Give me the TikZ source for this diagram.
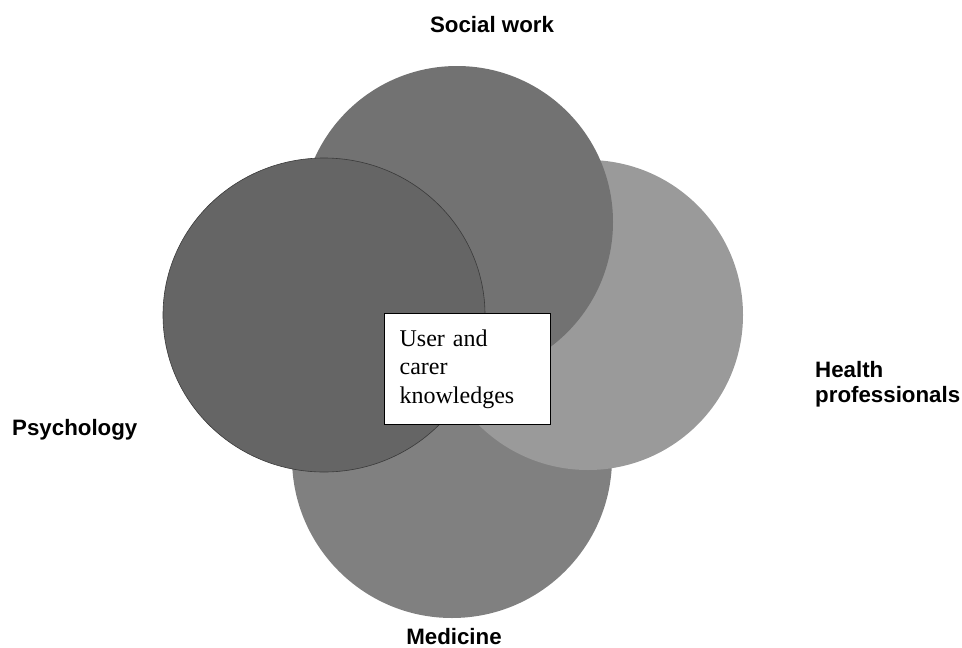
\documentclass[tikz,border=0pt]{standalone}
\usepackage{fontspec}
\setmainfont{Liberation Sans}
\newfontfamily\boxserif{Liberation Serif}
\usetikzlibrary{shapes.geometric}
\definecolor{grayMed}{HTML}{808080}
\definecolor{grayHealth}{HTML}{9A9A9A}
\definecolor{graySocial}{HTML}{727272}
\definecolor{grayPsych}{HTML}{656565}
\definecolor{edgePsych}{HTML}{3A3A3A}
\tikzset{
  disc/.style={ellipse, inner sep=0pt, draw=none},
  discPsych/.style={ellipse, inner sep=0pt, fill=grayPsych, draw=edgePsych, line width=0.6pt},
  fieldLabel/.style={font=\bfseries\fontsize{22.3}{25}\selectfont, inner sep=0pt, align=left},
  knowBox/.style={rectangle, draw=black, line width=1.3pt, fill=white, inner xsep=15pt,
                  text width=136pt, align=left, minimum height=111pt,
                  font=\boxserif\fontsize{24}{28.5}\selectfont},
}

\begin{document}
\begin{tikzpicture}[x=1pt, y=-1pt]
    \useasboundingbox (0,0) rectangle (962,648);
    % the four overlapping fields, back to front
    \node[disc, fill=grayMed, minimum width=320pt, minimum height=320pt] (med) at (452,458) {};
    \node[disc, fill=grayHealth, minimum width=310pt, minimum height=310pt] (health) at (588,315) {};
    \node[disc, fill=graySocial, minimum width=312pt, minimum height=312pt] (social) at (457,222) {};
    \node[discPsych, minimum width=322pt, minimum height=314pt] (psych) at (324,315) {};
    % shared knowledge in the middle
    \node[knowBox, anchor=north west] (know) at (384,313) {User and\\carer\\knowledges};
    % field names
    \node[fieldLabel, anchor=base] (lSocial) at (492,32) {Social work};
    \node[fieldLabel, anchor=base west] (lHealth) at (815,402) {Health\\professionals};
    \node[fieldLabel, anchor=base west] (lPsych) at (12,435) {Psychology};
    \node[fieldLabel, anchor=base] (lMed) at (454,644) {Medicine};
\end{tikzpicture}
\end{document}
